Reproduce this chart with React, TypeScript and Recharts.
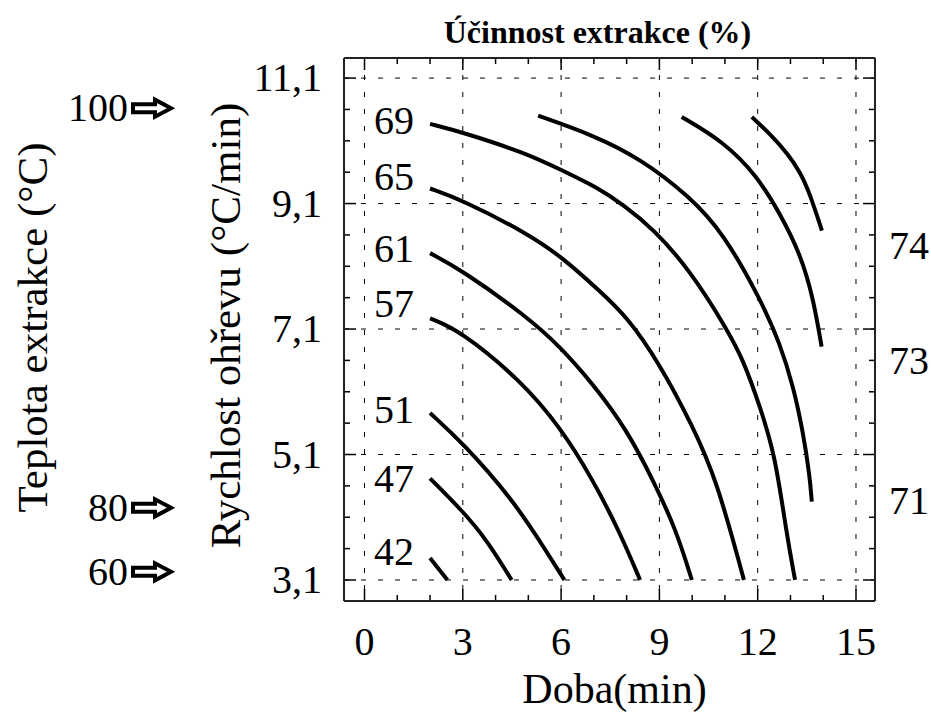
import React from 'react';
import { LineChart, Line, XAxis, YAxis, CartesianGrid, ReferenceLine, ReferenceDot } from 'recharts';

const SERIF = '"Liberation Serif", "Times New Roman", serif';

// osy
const X_DOMAIN: [number, number] = [-0.626, 15.58];
const Y_DOMAIN: [number, number] = [2.765, 11.42];
const xTicks = [0, 3, 6, 9, 12, 15];
const xMinorTicks = [1, 2, 4, 5, 7, 8, 10, 11, 13, 14];
const yTicks = [3.1, 5.1, 7.1, 9.1, 11.1];
const yTickLabels = ['3,1', '5,1', '7,1', '9,1', '11,1'];
const yMinorTicks = [3.6, 4.1, 4.6, 5.6, 6.1, 6.6, 7.6, 8.1, 8.6, 9.6, 10.1, 10.6];

// teplota extrakce (sipky vlevo)
const tempTicks = [10.62, 4.25, 3.23];
const tempLabels = ['100', '80', '60'];

// popisky izolinii vpravo
const rightTicks = [8.42, 6.59, 4.36];
const rightLabels = ['74', '73', '71'];

// popisky izolinii vlevo
const leftLabelX = 0.9;
const leftLabelY = [10.44, 9.55, 8.4, 7.52, 5.83, 4.73, 3.56];
const leftLabels = ['69', '65', '61', '57', '51', '47', '42'];

// izolinie (doba, rychlost ohrevu)
const c42 = [{ x: 2.0, y: 3.45 }, { x: 2.53, y: 3.1 }];
const c47 = [{ x: 2.0, y: 4.72 }, { x: 3.01, y: 4.19 }, { x: 3.73, y: 3.74 }, { x: 4.49, y: 3.1 }];
const c51 = [{ x: 2.0, y: 5.76 }, { x: 3.01, y: 5.28 }, { x: 4.54, y: 4.37 }, { x: 5.46, y: 3.63 }, { x: 6.1, y: 3.1 }];
const c57 = [
  { x: 2.0, y: 7.27 }, { x: 2.91, y: 7.08 }, { x: 4.75, y: 6.29 }, { x: 5.97, y: 5.54 },
  { x: 6.98, y: 4.69 }, { x: 7.8, y: 3.85 }, { x: 8.41, y: 3.1 },
];
const c61 = [
  { x: 2.0, y: 8.31 }, { x: 2.97, y: 8.04 }, { x: 4.95, y: 7.3 }, { x: 5.97, y: 6.82 },
  { x: 6.98, y: 6.22 }, { x: 8.0, y: 5.5 }, { x: 8.81, y: 4.69 }, { x: 9.51, y: 3.9 }, { x: 9.99, y: 3.1 },
];
const c65 = [
  { x: 2.0, y: 9.34 }, { x: 2.97, y: 9.16 }, { x: 4.95, y: 8.63 }, { x: 6.02, y: 8.25 },
  { x: 7.19, y: 7.7 }, { x: 8.0, y: 7.3 }, { x: 8.97, y: 6.58 }, { x: 10.03, y: 5.54 },
  { x: 10.75, y: 4.69 }, { x: 11.58, y: 3.1 },
];
const c69 = [
  { x: 2.0, y: 10.37 }, { x: 2.97, y: 10.24 }, { x: 4.95, y: 9.9 }, { x: 6.02, y: 9.63 },
  { x: 7.09, y: 9.36 }, { x: 7.9, y: 9.08 }, { x: 8.81, y: 8.7 }, { x: 9.93, y: 8.04 },
  { x: 11.05, y: 7.11 }, { x: 11.56, y: 6.61 }, { x: 12.07, y: 5.86 }, { x: 12.53, y: 5.1 },
  { x: 12.88, y: 3.84 }, { x: 13.14, y: 3.1 },
];
const c71 = [
  { x: 5.3, y: 10.5 }, { x: 6.98, y: 10.19 }, { x: 8.41, y: 9.82 }, { x: 9.93, y: 9.21 },
  { x: 10.95, y: 8.63 }, { x: 12.07, y: 7.59 }, { x: 12.68, y: 6.87 }, { x: 13.09, y: 6.18 },
  { x: 13.39, y: 5.44 }, { x: 13.59, y: 4.75 }, { x: 13.65, y: 4.35 },
];
const c73 = [
  { x: 9.68, y: 10.48 }, { x: 10.95, y: 10.09 }, { x: 11.97, y: 9.55 }, { x: 12.68, y: 8.94 },
  { x: 13.29, y: 8.31 }, { x: 13.69, y: 7.61 }, { x: 13.95, y: 6.82 },
];
const c74 = [
  { x: 11.82, y: 10.48 }, { x: 12.4, y: 10.2 }, { x: 12.92, y: 9.89 }, { x: 13.3, y: 9.6 },
  { x: 13.59, y: 9.26 }, { x: 13.96, y: 8.67 },
];

const contours = [c42, c47, c51, c57, c61, c65, c69, c71, c73, c74];

const PLOT_W = 531;
const PLOT_H = 543;
const PX_X = PLOT_W / (X_DOMAIN[1] - X_DOMAIN[0]);
const PX_Y = PLOT_H / (Y_DOMAIN[1] - Y_DOMAIN[0]);
const MAJOR = 12;
const MINOR = 6;

const txt = { fontFamily: SERIF, fill: '#000' };

const XTick = (p: any) => (
  <text x={p.x} y={p.y + 54} textAnchor="middle" fontSize={40} {...txt}>
    {p.payload.value}
  </text>
);

const RateTick = (p: any) => {
  const i = yTicks.indexOf(p.payload.value);
  return (
    <text x={p.x - 22} y={p.y + 13} textAnchor="end" fontSize={40} {...txt}>
      {i >= 0 ? yTickLabels[i] : p.payload.value}
    </text>
  );
};

const TempTick = (p: any) => {
  const i = tempTicks.indexOf(p.payload.value);
  const ax = p.x - 47;
  const y = p.y;
  const arrow = [
    [0, -4], [22, -4], [22, -8.5], [38, 0], [22, 8.5], [22, 4], [0, 4],
  ].map(([dx, dy]) => `${ax + dx},${y + dy}`).join(' ');
  return (
    <g>
      <text x={p.x - 52} y={y + 13} textAnchor="end" fontSize={40} {...txt}>
        {i >= 0 ? tempLabels[i] : ''}
      </text>
      <polygon points={arrow} fill="#fff" stroke="#000" strokeWidth={4} strokeLinejoin="miter" />
    </g>
  );
};

const RightTick = (p: any) => {
  const i = rightTicks.indexOf(p.payload.value);
  return (
    <text x={p.x + 14} y={p.y + 13} textAnchor="start" fontSize={40} {...txt}>
      {i >= 0 ? rightLabels[i] : ''}
    </text>
  );
};

const vbOf = (p: any, fb: any) => (p && p.viewBox && p.viewBox.width !== undefined ? p.viewBox : fb);

const TitleLabel = (p: any) => {
  const vb = vbOf(p, { x: 344, y: 0, width: 531, height: 58 });
  return (
    <text x={vb.x + vb.width / 2 - 12} y={43} textAnchor="middle" fontSize={32} fontWeight="bold" {...txt}>
      Účinnost extrakce (%)
    </text>
  );
};

const XLabel = (p: any) => {
  const vb = vbOf(p, { x: 344, y: 601, width: 531, height: 119 });
  return (
    <text x={vb.x + vb.width / 2 + 5} y={vb.y + 102} textAnchor="middle" fontSize={42} {...txt}>
      Doba(min)
    </text>
  );
};

const RateLabel = (p: any) => {
  const vb = vbOf(p, { x: 180, y: 0, width: 164, height: 543 });
  const x = vb.x + 45;
  const y = vb.y + vb.height / 2 - 4;
  return (
    <text x={x} y={y} transform={`rotate(-90 ${x} ${y})`} textAnchor="middle" dominantBaseline="central" fontSize={43} {...txt}>
      Rychlost ohřevu (°C/min)
    </text>
  );
};

const TempLabel = (p: any) => {
  const vb = vbOf(p, { x: 0, y: 58, width: 180, height: 543 });
  const x = vb.x + 32;
  const y = vb.y + vb.height / 2 - 2;
  return (
    <text x={x} y={y} transform={`rotate(-90 ${x} ${y})`} textAnchor="middle" dominantBaseline="central" fontSize={43} {...txt}>
      Teplota extrakce (°C)
    </text>
  );
};

const border = { stroke: '#222', strokeWidth: 2 };

export default function App() {
  const [x0, x1] = X_DOMAIN;
  const [y0, y1] = Y_DOMAIN;
  const tickSegs: { a: { x: number; y: number }; b: { x: number; y: number } }[] = [];
  const addX = (t: number, len: number) => {
    tickSegs.push({ a: { x: t, y: y0 }, b: { x: t, y: y0 + len / PX_Y } });
    tickSegs.push({ a: { x: t, y: y1 }, b: { x: t, y: y1 - len / PX_Y } });
  };
  const addY = (t: number, len: number) => {
    tickSegs.push({ a: { x: x0, y: t }, b: { x: x0 + len / PX_X, y: t } });
    tickSegs.push({ a: { x: x1, y: t }, b: { x: x1 - len / PX_X, y: t } });
  };
  xTicks.forEach((t) => addX(t, MAJOR));
  xMinorTicks.forEach((t) => addX(t, MINOR));
  yTicks.forEach((t) => addY(t, MAJOR));
  yMinorTicks.forEach((t) => addY(t, MINOR));

  return (
    <div style={{ position: 'absolute', left: 0, top: 0, width: 931, height: 720, background: '#fff' }}>
      <LineChart width={931} height={720} margin={{ top: 0, right: 0, bottom: 0, left: 0 }}>
        <CartesianGrid xAxisId="b" yAxisId="rate" stroke="#000" strokeWidth={1} strokeDasharray="5 12" />
        <XAxis
          xAxisId="b"
          type="number"
          dataKey="x"
          domain={X_DOMAIN}
          allowDataOverflow
          ticks={xTicks}
          interval={0}
          height={119}
          tickLine={false}
          tickSize={0}
          tickMargin={0}
          axisLine={border}
          tick={XTick}
          label={XLabel}
        />
        <XAxis
          xAxisId="t"
          orientation="top"
          type="number"
          domain={X_DOMAIN}
          allowDataOverflow
          height={58}
          tick={false}
          tickLine={false}
          axisLine={border}
          label={TitleLabel}
        />
        <YAxis
          yAxisId="rate"
          type="number"
          domain={Y_DOMAIN}
          allowDataOverflow
          ticks={yTicks}
          interval={0}
          width={164}
          tickLine={false}
          tickSize={0}
          tickMargin={0}
          axisLine={border}
          tick={RateTick}
          label={RateLabel}
        />
        <YAxis
          yAxisId="temp"
          type="number"
          domain={Y_DOMAIN}
          allowDataOverflow
          ticks={tempTicks}
          interval={0}
          width={180}
          tickLine={false}
          tickSize={0}
          tickMargin={0}
          axisLine={false}
          tick={TempTick}
          label={TempLabel}
        />
        <YAxis
          yAxisId="right"
          orientation="right"
          type="number"
          domain={Y_DOMAIN}
          allowDataOverflow
          ticks={rightTicks}
          interval={0}
          width={56}
          tickLine={false}
          tickSize={0}
          tickMargin={0}
          axisLine={border}
          tick={RightTick}
        />
        {tickSegs.map((s, i) => (
          <ReferenceLine
            key={`tk${i}`}
            xAxisId="b"
            yAxisId="rate"
            segment={[s.a, s.b]}
            stroke="#000"
            strokeWidth={1.5}
            ifOverflow="visible"
          />
        ))}
        {contours.map((c, i) => (
          <Line
            key={`c${i}`}
            xAxisId="b"
            yAxisId="rate"
            data={c}
            dataKey="y"
            type="basis"
            stroke="#000"
            strokeWidth={4}
            dot={false}
            activeDot={false}
            isAnimationActive={false}
          />
        ))}
        {leftLabels.map((v, i) => (
          <ReferenceDot
            key={`l${i}`}
            xAxisId="b"
            yAxisId="rate"
            x={leftLabelX}
            y={leftLabelY[i]}
            r={0}
            fill="none"
            stroke="none"
            ifOverflow="visible"
            label={{ value: v, position: 'center', fontSize: 40, fontFamily: SERIF, fill: '#000' }}
          />
        ))}
      </LineChart>
    </div>
  );
}
